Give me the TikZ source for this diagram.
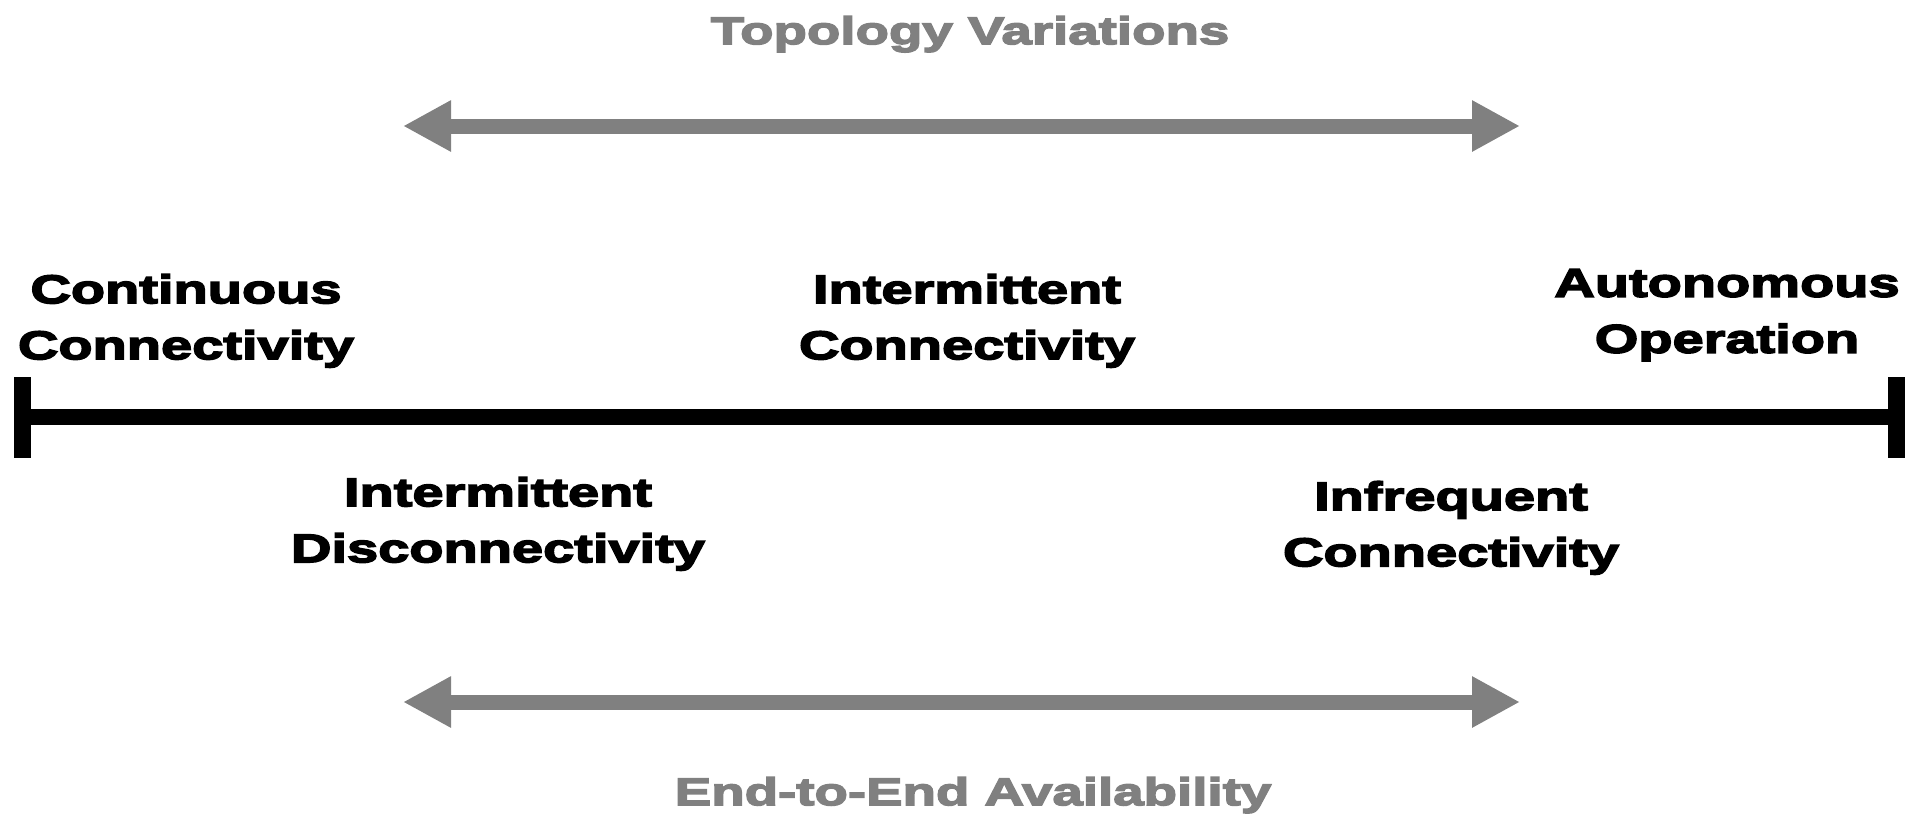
\documentclass[tikz,border=0pt]{standalone}
\usepackage{fontspec}
\usetikzlibrary{arrows.meta}
\newfontfamily\heavy{Liberation Sans Bold}[FakeStretch=1.40,FakeBold=4]
\newfontfamily\heavygray{Liberation Sans Bold}[FakeStretch=1.42,FakeBold=4]
\definecolor{arrowgray}{HTML}{808080}
\tikzset{
  lbl/.style={anchor=north, inner sep=0pt, align=center, text=black,
    font=\heavy\fontsize{40}{56}\selectfont},
  graylbl/.style={anchor=north, inner sep=0pt, align=center, text=arrowgray,
    font=\heavygray\fontsize{38.5}{48}\selectfont},
  endtick/.style={fill=black, draw=none, inner sep=0pt, minimum width=17pt, minimum height=81pt},
  axisline/.style={line width=16pt, black},
  blockarrow/.style={line width=15pt, arrowgray,
    {Triangle[length=48pt,width=48pt]}-{Triangle[length=48pt,width=48pt]}}
}
\begin{document}
\begin{tikzpicture}[x=1pt,y=-1pt]
\useasboundingbox (0,0) rectangle (1905,815);
% axis
\node[endtick] (L) at (22.5,417) {};
\node[endtick] (R) at (1896,417) {};
\draw[axisline] (L.center) -- (R.center);
% gray arrows
\coordinate (tl) at (403,126);
\coordinate (tr) at (1520,126);
\coordinate (bl) at (403,702);
\coordinate (br) at (1520,702);
\draw[blockarrow] (tl) -- (tr);
\draw[blockarrow] (bl) -- (br);
% gray labels
\node[graylbl] (topo) at (970,16) {Topology Variations};
\node[graylbl] (e2e) at (973,777) {End-to-End Availability};
% black labels
\node[lbl] (cont) at (186,274) {Continuous\\Connectivity};
\node[lbl] (intc) at (967,274) {Intermittent\\Connectivity};
\node[lbl] (auto) at (1727,269) {Autonomous\\Operation};
\node[lbl] (intd) at (498,477) {Intermittent\\Disconnectivity};
\node[lbl] (infr) at (1451,481) {Infrequent\\Connectivity};
\end{tikzpicture}
\end{document}
